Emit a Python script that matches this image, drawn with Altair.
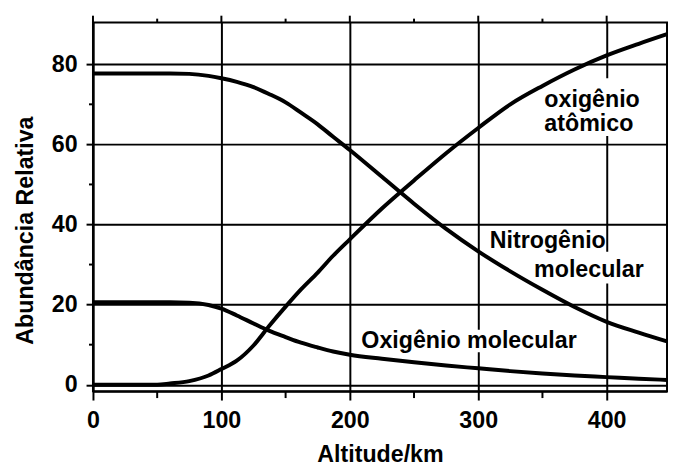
import altair as alt
import pandas as pd

# ---- data ----
alt_km = [0, 25, 50, 60, 75, 90, 100, 112, 125, 137, 150, 162, 175, 187,
          200, 225, 250, 275, 300, 325, 350, 375, 400, 425, 447]
n2 = [77.7, 77.7, 77.7, 77.7, 77.6, 77.1, 76.5, 75.6, 74.3, 72.6, 70.5, 67.9,
      65.0, 61.9, 58.6, 51.9, 45.2, 38.9, 33.3, 28.3, 23.7, 19.4, 15.7, 13.0, 10.8]
o_atom = [0, 0, 0, 0.3, 0.9, 2.3, 3.9, 6.0, 9.8, 14.6, 19.5, 23.8, 28.0, 32.2,
          36.3, 44.0, 51.0, 57.8, 64.1, 70.0, 74.6, 78.7, 82.2, 85.1, 87.5]
o2 = [20.6, 20.6, 20.6, 20.6, 20.5, 19.9, 19.0, 17.3, 15.3, 13.5, 11.9, 10.5,
      9.3, 8.3, 7.5, 6.5, 5.6, 4.8, 4.1, 3.4, 2.8, 2.3, 1.9, 1.5, 1.2]

x_ticks = [0, 100, 200, 300, 400]
x_minor = [50, 150, 250, 350]
y_ticks = [0, 20, 40, 60, 80]
y_minor = [10, 30, 50, 70]

label_text = ["oxigênio", "atômico", "Nitrogênio", "molecular", "Oxigênio molecular"]
label_x = [351.5, 351.5, 309.0, 343.5, 209.0]
label_y = [69.3, 63.4, 34.2, 26.8, 9.1]

box_x0 = [347.7, 306.2, 340.8, 206.2]
box_x1 = [424.5, 397.0, 431.5, 381.0]
box_y0 = [62.1, 33.5, 25.3, 8.1]
box_y1 = [76.5, 38.9, 33.2, 13.7]

# ---- tables ----
curves = pd.concat([
    pd.DataFrame({"alt": alt_km, "val": n2, "s": "N2"}),
    pd.DataFrame({"alt": alt_km, "val": o_atom, "s": "O"}),
    pd.DataFrame({"alt": alt_km, "val": o2, "s": "O2"}),
])
labels = pd.DataFrame({"t": label_text, "alt": label_x, "val": label_y})
boxes = pd.DataFrame({"alt": box_x0, "alt2": box_x1, "val": box_y0, "val2": box_y1})
xmin_df = pd.DataFrame({"alt": x_minor})
xmaj_df = pd.DataFrame({"alt": x_ticks})
ymin_df = pd.DataFrame({"val": y_minor})

FONT = "Liberation Sans"
FS = 23.5
W, H = 581, 373

xscale = alt.Scale(domain=[0, 447], nice=False, zero=False)
yscale = alt.Scale(domain=[-1.6, 90.4], nice=False, zero=False)

xaxis = alt.Axis(values=x_ticks, grid=True, gridColor="black", gridWidth=2,
                 gridOpacity=1, domainColor="black", domainWidth=2,
                 tickColor="black", tickWidth=2, tickSize=9,
                 labelFont=FONT, labelFontSize=FS, labelFontWeight="bold",
                 labelColor="black", labelPadding=28, labelBaseline="alphabetic",
                 labelFlush=False, labelOverlap=False,
                 title="Altitude/km", titleFont=FONT, titleFontSize=FS,
                 titleFontWeight="bold", titleColor="black",
                 titleBaseline="alphabetic", titleY=71)
yaxis = alt.Axis(values=y_ticks, grid=True, gridColor="black", gridWidth=2,
                 gridOpacity=1, domainColor="black", domainWidth=2,
                 tickColor="black", tickWidth=2, tickSize=7,
                 labelFont=FONT, labelFontSize=FS, labelFontWeight="bold",
                 labelColor="black", labelPadding=9, labelBaseline="middle",
                 labelFlush=False, labelOverlap=False,
                 title="Abundância Relativa", titleFont=FONT, titleFontSize=FS,
                 titleFontWeight="bold", titleColor="black",
                 titleBaseline="alphabetic", titleX=-61, titleY=210)


def X(field="alt"):
    return alt.X(f"{field}:Q", scale=xscale, axis=xaxis)


def Y(field="val"):
    return alt.Y(f"{field}:Q", scale=yscale, axis=yaxis)


box_layer = alt.Chart(boxes).mark_rect(fill="white", strokeWidth=0).encode(
    x=X(), x2="alt2:Q", y=Y(), y2="val2:Q")

line_layer = alt.Chart(curves).mark_line(
    color="black", strokeWidth=4, interpolate="monotone").encode(
    x=X(), y=Y(), detail="s:N")

text_layer = alt.Chart(labels).mark_text(
    align="left", baseline="alphabetic", font=FONT, fontWeight="bold",
    fontSize=FS, color="black").encode(x=X(), y=Y(), text="t:N")

bottom_minor = alt.Chart(xmin_df).mark_rule(color="black", strokeWidth=2).encode(
    x=X(), y=alt.value(H), y2=alt.value(H + 7))
top_minor = alt.Chart(xmin_df).mark_rule(color="black", strokeWidth=2).encode(
    x=X(), y=alt.value(-4), y2=alt.value(0))
top_major = alt.Chart(xmaj_df).mark_rule(color="black", strokeWidth=2).encode(
    x=X(), y=alt.value(-7), y2=alt.value(0))
left_minor = alt.Chart(ymin_df).mark_rule(color="black", strokeWidth=2).encode(
    y=Y(), x=alt.value(-4), x2=alt.value(0))

chart = alt.layer(
    box_layer, line_layer, text_layer,
    bottom_minor, top_minor, top_major, left_minor
).properties(
    width=W, height=H,
    autosize=alt.AutoSizeParams(type="none"),
    padding={"left": 86, "top": 12, "right": 1, "bottom": 75},
    background="white",
).configure_view(stroke="black", strokeWidth=2)

chart.save("out.html", embed_options={"renderer": "svg", "actions": False})
